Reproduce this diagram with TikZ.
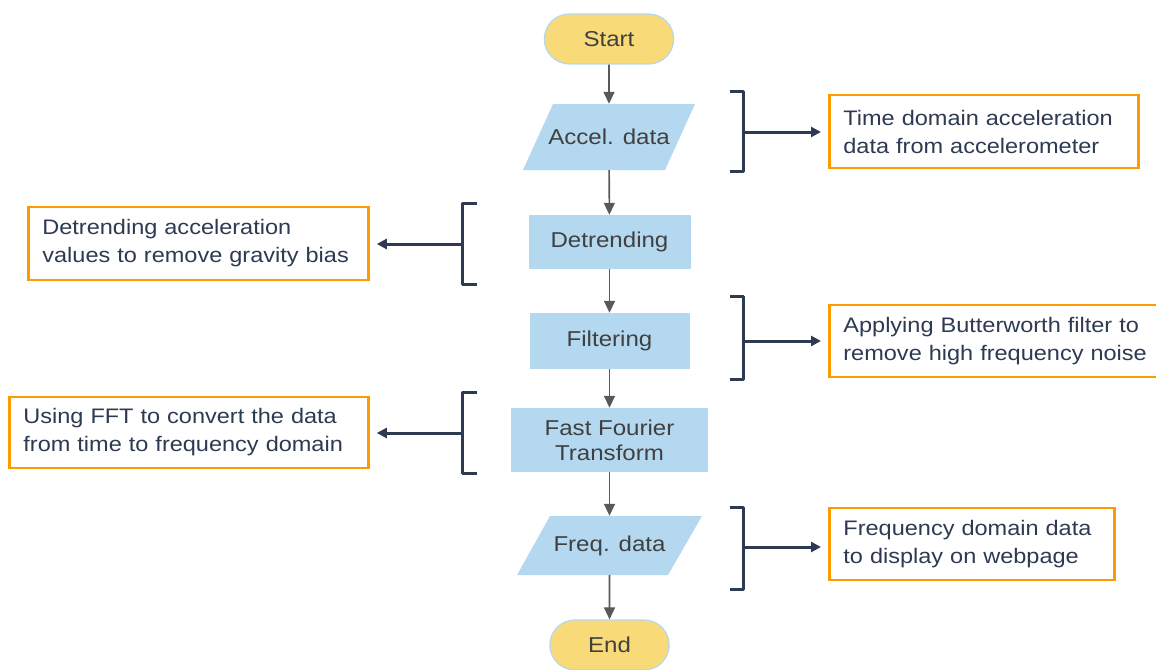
\documentclass[tikz,border=0pt]{standalone}
\usepackage{fontspec}
\setmainfont{Liberation Sans}[FakeStretch=1.12]
\usetikzlibrary{arrows.meta,shapes.misc}
\definecolor{yel}{HTML}{F9DA78}
\definecolor{lblue}{HTML}{B4D8EF}
\definecolor{navy}{HTML}{2D3A52}
\definecolor{org}{HTML}{FF9A00}
\definecolor{gry}{HTML}{595959}
\definecolor{txt}{HTML}{404040}
\begin{document}
\begin{tikzpicture}[x=1pt,y=-1pt,
 nfont/.style={font=\fontsize{21.5}{25}\selectfont, text=txt},
 term/.style={rounded rectangle, fill=yel, draw=lblue, line width=1.2pt, minimum width=136pt, minimum height=50pt, nfont},
 proc/.style={rectangle, fill=lblue, inner sep=0pt, align=center, nfont},
 io/.style={inner sep=0pt, nfont},
 note/.style={draw=org, line width=2.8pt, fill=white, inner xsep=14pt, inner ysep=0pt, align=left, text=navy, font=\fontsize{21}{28}\selectfont, anchor=west},
 flow/.style={draw=gry, line width=1.6pt, -{Triangle[length=12pt,width=11pt]}},
 brk/.style={draw=navy, line width=3pt, line join=round},
 barrow/.style={draw=navy, line width=3pt, -{Triangle[length=10pt,width=10pt]}, shorten >=7pt}
]
\useasboundingbox (0,0) rectangle (1156,669);

% flow nodes
\node[term] (start) at (609,39) {Start};
\fill[lblue] (553,104) -- (695,104) -- (665,170) -- (523,170) -- cycle;
\node[io, minimum width=142pt, minimum height=66pt] (acc) at (609,137) {Accel. data};
\node[proc, minimum width=162pt, minimum height=54pt] (det) at (609.5,242) {Detrending};
\node[proc, minimum width=160pt, minimum height=56pt] (fil) at (609.5,341) {Filtering};
\node[proc, minimum width=197pt, minimum height=64pt] (fft) at (609.5,440) {Fast Fourier\\Transform};
\fill[lblue] (550,516) -- (702,516) -- (668,575) -- (517,575) -- cycle;
\node[io, minimum width=150pt, minimum height=59pt] (freq) at (609.5,545.5) {Freq. data};
\node[term, minimum width=126pt] (end) at (609.5,645) {End};

\draw[flow] (start) -- (acc);
\draw[flow] (acc) -- (det);
\draw[flow] (det) -- (fil);
\draw[flow] (fil) -- (fft);
\draw[flow] (fft) -- (freq);
\draw[flow] (freq) -- (end);

% notes
\node[note, text width=281pt, minimum height=73pt] (n1) at (828,131.5) {Time domain acceleration\\data from accelerometer};
\node[note, text width=312pt, minimum height=73pt] (n2) at (27,243.5) {Detrending acceleration\\values to remove gravity bias};
\node[note, text width=312pt, minimum height=72pt] (n3) at (828,341) {Applying Butterworth filter to\\remove high frequency noise};
\node[note, text width=331pt, minimum height=71pt] (n4) at (8,432.5) {Using FFT to convert the data\\from time to frequency domain};
\node[note, text width=257pt, minimum height=72pt] (n5) at (828,544) {Frequency domain data\\to display on webpage};

% brackets
\coordinate (b1) at (743,132);
\coordinate (b2) at (462,244);
\coordinate (b3) at (743,341);
\coordinate (b4) at (462,433);
\coordinate (b5) at (743,547);
\draw[brk] (730,91) -- (743,91) -- (743,171) -- (730,171);
\draw[brk] (477,203) -- (462,203) -- (462,284) -- (477,284);
\draw[brk] (730,296) -- (743,296) -- (743,379) -- (730,379);
\draw[brk] (477,392) -- (462,392) -- (462,473) -- (477,473);
\draw[brk] (730,507) -- (743,507) -- (743,589) -- (730,589);
\draw[barrow] (b1) -- (b1 -| n1.west);
\draw[barrow] (b2) -- (b2 -| n2.east);
\draw[barrow] (b3) -- (b3 -| n3.west);
\draw[barrow] (b4) -- (b4 -| n4.east);
\draw[barrow] (b5) -- (b5 -| n5.west);
\end{tikzpicture}
\end{document}
